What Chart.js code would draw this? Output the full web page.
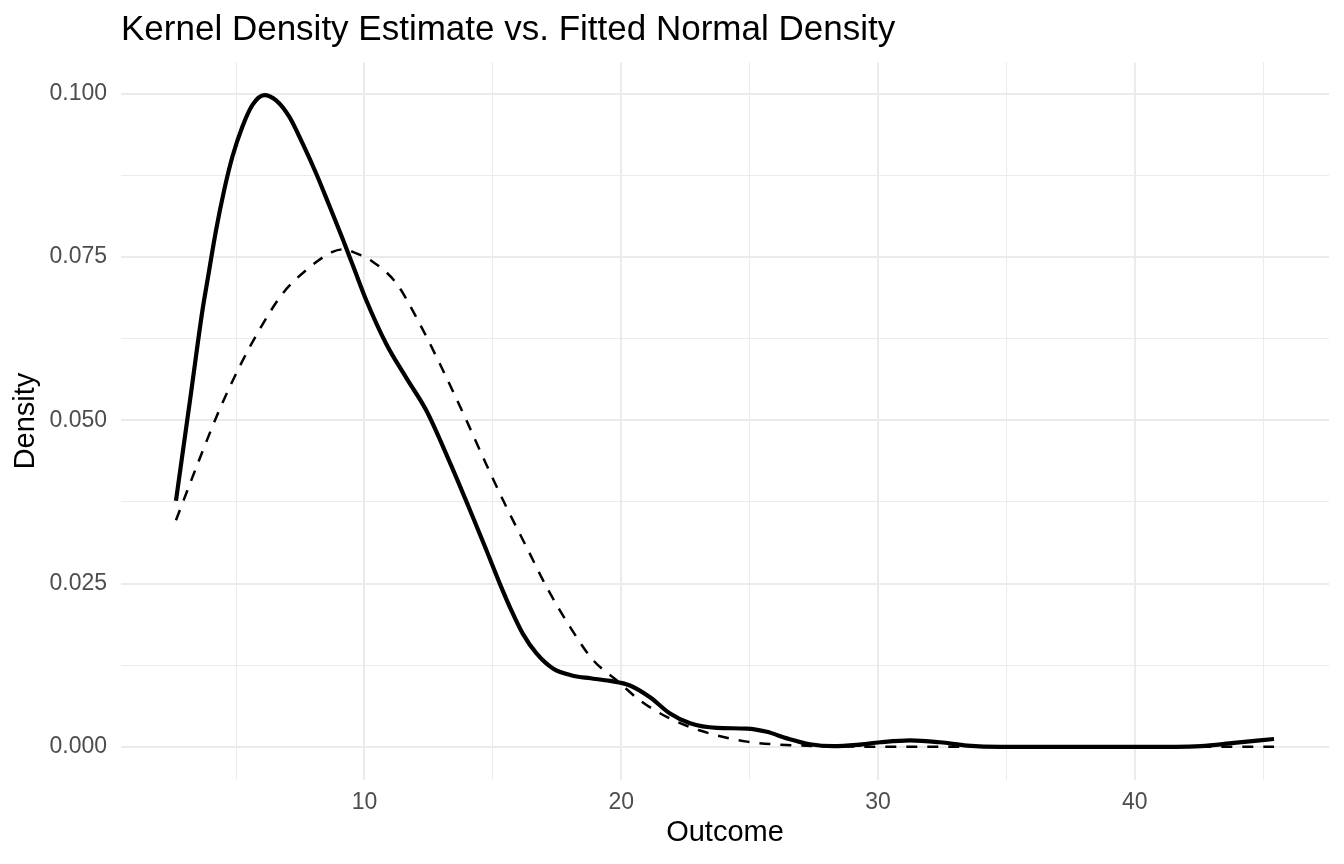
<!DOCTYPE html>
<html>
<head>
<meta charset="utf-8">
<title>Kernel Density Estimate vs. Fitted Normal Density</title>
<script src="https://cdn.jsdelivr.net/npm/chart.js@4.4.1/dist/chart.umd.min.js"></script>
<style>
  html, body { margin: 0; padding: 0; background: #fff; }
  #wrap { width: 1344px; height: 864px; position: relative; }
</style>
</head>
<body>
<div id="wrap"><canvas id="densityChart"></canvas></div>
<script>
// Values
const kdeX = [2.66, 3.24, 3.69, 3.89, 4.22, 4.54, 4.86, 5.25, 5.64, 6.10, 6.56, 7.07, 7.59, 8.12, 8.63, 9.15, 9.61, 10.07, 10.85, 11.63, 12.41, 13.32, 14.22, 14.75, 15.27, 15.72, 16.17, 16.70, 17.34, 18.12, 18.80, 19.56, 20.34, 21.12, 21.90, 22.68, 23.72, 24.89, 25.67, 26.45, 27.35, 28.26, 29.18, 30.09, 31.25, 32.42, 33.47, 34.77, 36.50, 38.50, 40.50, 41.60, 42.57, 43.86, 45.42];
const kdeY = [0.0377, 0.0540, 0.0668, 0.0715, 0.0791, 0.0853, 0.0904, 0.0950, 0.0983, 0.0998, 0.0990, 0.0965, 0.0924, 0.0878, 0.0829, 0.0778, 0.0731, 0.0684, 0.0617, 0.0565, 0.0515, 0.0436, 0.0352, 0.0301, 0.0250, 0.0209, 0.0173, 0.0143, 0.0120, 0.0109, 0.0105, 0.0101, 0.0094, 0.0076, 0.0051, 0.0036, 0.0029, 0.0028, 0.0023, 0.0013, 0.0004, 0.0001, 0.0003, 0.0007, 0.0010, 0.0007, 0.0002, 0.0000, 0.0000, 0.0000, 0.0000, 0.0000, 0.0001, 0.0006, 0.0012];

const normX = [2.66, 3.56, 4.34, 5.12, 5.90, 6.81, 7.73, 8.76, 9.20, 9.54, 10.32, 11.24, 12.15, 12.93, 13.97, 14.75, 15.53, 16.31, 17.09, 18.00, 18.90, 19.82, 20.73, 21.77, 23.07, 24.89, 27.00, 29.00, 31.00, 35.00, 40.00, 45.42];
const normY = [0.0347, 0.0439, 0.0515, 0.0581, 0.0638, 0.0694, 0.0730, 0.0758, 0.0762, 0.0758, 0.0743, 0.0710, 0.0648, 0.0587, 0.0500, 0.0432, 0.0367, 0.0306, 0.0245, 0.0184, 0.0133, 0.0102, 0.0071, 0.0046, 0.0025, 0.0008, 0.0002, 0.00005, 0, 0, 0, 0];

const xMajorTicks = [10, 20, 30, 40];
const xMinorTicks = [5, 15, 25, 35, 45];
const yMajorTicks = [0, 0.025, 0.05, 0.075, 0.1];
const yMinorTicks = [0.0125, 0.0375, 0.0625, 0.0875];

const fontFamily = '"Liberation Sans", Arial, Helvetica, sans-serif';
const gridColor = '#EBEBEB';
const tickColor = '#4D4D4D';

const isIn = (list, v) => list.some(m => Math.abs(m - v) < 1e-9);
const toPoints = (xs, ys) => xs.map((x, i) => ({ x: x, y: ys[i] }));

const xAll = xMajorTicks.concat(xMinorTicks).sort((a, b) => a - b);
const yAll = yMajorTicks.concat(yMinorTicks).sort((a, b) => a - b);

const ctx = document.getElementById('densityChart').getContext('2d');
const densityChart = new Chart(ctx, {
    type: 'line',
    data: {
        datasets: [
            {
                label: 'Kernel density',
                data: toPoints(kdeX, kdeY),
                borderColor: '#000000',
                borderWidth: 4.2,
                pointRadius: 0,
                fill: false,
                cubicInterpolationMode: 'monotone'
            },
            {
                label: 'Normal density',
                data: toPoints(normX, normY),
                borderColor: '#000000',
                borderWidth: 2.5,
                borderDash: [11, 10],
                pointRadius: 0,
                fill: false,
                cubicInterpolationMode: 'monotone'
            }
        ]
    },
    options: {
        responsive: true,
        maintainAspectRatio: false,
        animation: false,
        layout: { padding: { left: 0, right: 15, top: 0, bottom: 0 } },
        plugins: {
            legend: { display: false },
            tooltip: { enabled: false },
            title: {
                display: true,
                text: 'Kernel Density Estimate vs. Fitted Normal Density',
                align: 'start',
                fullSize: false,
                color: '#000000',
                font: { family: fontFamily, size: 35, weight: 'normal' },
                padding: { top: 9, bottom: 11.5 }
            }
        },
        scales: {
            x: {
                type: 'linear',
                min: 0.52,
                max: 47.56,
                afterBuildTicks: scale => { scale.ticks = xAll.map(v => ({ value: v })); },
                afterFit: scale => { scale.height = 84.5; },
                border: { display: false },
                grid: {
                    color: gridColor,
                    lineWidth: c => (c.tick && isIn(xMajorTicks, c.tick.value)) ? 2 : 1,
                    drawTicks: false
                },
                ticks: {
                    autoSkip: false,
                    maxRotation: 0,
                    padding: 9,
                    color: tickColor,
                    font: { family: fontFamily, size: 23 },
                    callback: v => isIn(xMajorTicks, v) ? String(v) : ''
                },
                title: {
                    display: true,
                    text: 'Outcome',
                    color: '#000000',
                    font: { family: fontFamily, size: 29 },
                    padding: { top: 0, bottom: 13.6 }
                }
            },
            y: {
                type: 'linear',
                min: -0.005,
                max: 0.1048,
                afterBuildTicks: scale => { scale.ticks = yAll.map(v => ({ value: v })); },
                afterFit: scale => { scale.width = 121; },
                border: { display: false },
                grid: {
                    color: gridColor,
                    lineWidth: c => (c.tick && isIn(yMajorTicks, c.tick.value)) ? 2 : 1,
                    drawTicks: false
                },
                ticks: {
                    autoSkip: false,
                    padding: 14,
                    color: tickColor,
                    font: { family: fontFamily, size: 23 },
                    callback: v => isIn(yMajorTicks, v) ? v.toFixed(3) : ''
                },
                title: {
                    display: true,
                    text: 'Density',
                    color: '#000000',
                    font: { family: fontFamily, size: 29 },
                    padding: { top: 8.5, bottom: 0 }
                }
            }
        }
    }
});
</script>
</body>
</html>
